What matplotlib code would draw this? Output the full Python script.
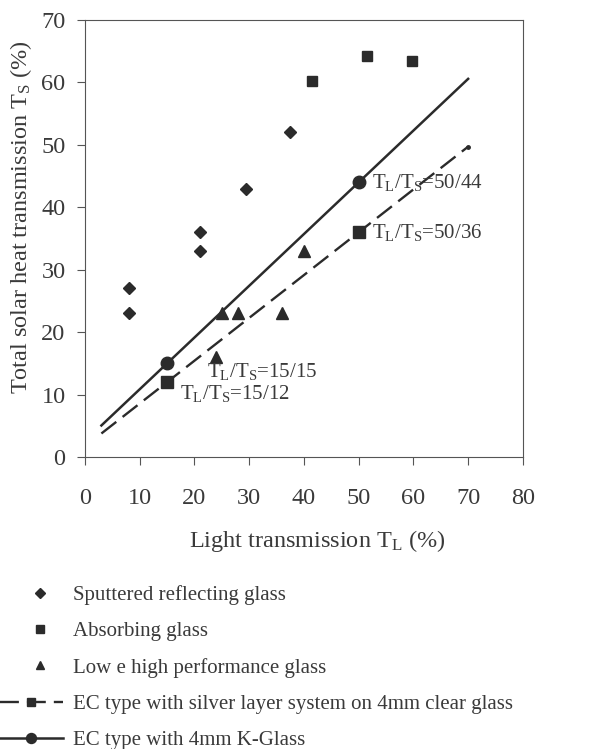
import matplotlib
matplotlib.use("Agg")
import matplotlib.pyplot as plt
from matplotlib.legend_handler import HandlerLine2D
import numpy as np

plt.rcParams['font.family'] = ['Liberation Serif', 'DejaVu Serif']
plt.rcParams['mathtext.fontset'] = 'custom'
plt.rcParams['mathtext.rm'] = 'Liberation Serif'
plt.rcParams['mathtext.it'] = 'Liberation Serif:italic'

INK = '#2b2b2b'
TXT = '#3a3a3a'

# Commercial glazing products: light transmission TL vs total solar transmission TS (%)
sputtered_tl = [8, 8, 21, 21, 29.5, 37.5]
sputtered_ts = [27, 23, 36, 33, 43, 52]

absorbing_tl = [41.5, 51.5, 59.8]
absorbing_ts = [60.2, 64.2, 63.4]

lowe_tl = [24, 25, 28, 36, 40]
lowe_ts = [16, 23, 23, 23, 33]

# Electrochromic devices: operating points (bleached/coloured) and line extent
ec_silver_tl = [15, 50]
ec_silver_ts = [12, 36]
ec_kglass_tl = [15, 50]
ec_kglass_ts = [15, 44]
ec_line_tl = [3, 70]

x_ticks = [0, 10, 20, 30, 40, 50, 60, 70, 80]
y_ticks = [0, 10, 20, 30, 40, 50, 60, 70]


def extend(xp, yp, xr):
    slope = (yp[1] - yp[0]) / (xp[1] - xp[0])
    xs = [xr[0], xp[0], xp[1], xr[1]]
    ys = [yp[0] + slope * (x - xp[0]) for x in xs]
    return xs, ys


class MarkerRight(HandlerLine2D):
    """Legend handler that sets a lone marker a bit right of centre."""

    def get_xdata(self, legend, xdescent, ydescent, width, height, fontsize):
        xdata = np.array([-xdescent + 0.28 * width, -xdescent + width])
        return xdata, np.array([-xdescent + 0.64 * width])


fig = plt.figure(figsize=(6.01, 7.49), dpi=100)
ax = fig.add_axes([0.1414, 0.3898, 0.7286, 0.5835])

h1, = ax.plot(sputtered_tl, sputtered_ts, 'D', color=INK, ms=6, ls='none',
              label='Sputtered reflecting glass')
h2, = ax.plot(absorbing_tl, absorbing_ts, 's', color=INK, ms=7, ls='none',
              label='Absorbing glass')
h3, = ax.plot(lowe_tl, lowe_ts, '^', color=INK, ms=8, ls='none',
              label='Low e high performance glass')

xs, ys = extend(ec_silver_tl, ec_silver_ts, ec_line_tl)
h4, = ax.plot(xs, ys, color=INK, lw=1.7, ls=(0, (8, 3.4)), marker='s', ms=8,
              markevery=[1, 2],
              label='EC type with silver layer system on 4mm clear glass')
ax.plot([xs[-1]], [ys[-1]], 'o', color=INK, ms=2.5)

xs, ys = extend(ec_kglass_tl, ec_kglass_ts, ec_line_tl)
h5, = ax.plot(xs, ys, color=INK, lw=1.8, marker='o', ms=9, markevery=[1, 2],
              label='EC type with 4mm K-Glass')

lab = r'T$_\mathrm{L}$/T$_\mathrm{S}$=%d/%d'
fs_ann = 15
ax.text(52.5, 44, lab % (ec_kglass_tl[1], ec_kglass_ts[1]), fontsize=fs_ann,
        color=TXT, va='center', ha='left')
ax.text(52.5, 36, lab % (ec_silver_tl[1], ec_silver_ts[1]), fontsize=fs_ann,
        color=TXT, va='center', ha='left')
ax.text(22.3, 13.7, lab % (ec_kglass_tl[0], ec_kglass_ts[0]), fontsize=fs_ann,
        color=TXT, va='center', ha='left')
ax.text(17.3, 10.2, lab % (ec_silver_tl[0], ec_silver_ts[0]), fontsize=fs_ann,
        color=TXT, va='center', ha='left')

ax.set_xlim(0, 80)
ax.set_ylim(0, 70)
ax.set_xticks(x_ticks)
ax.set_yticks(y_ticks)
ax.tick_params(axis='both', direction='out', length=6, width=0.8,
               colors='#555555', labelcolor=TXT, labelsize=17.5)
ax.tick_params(axis='x', pad=16)
ax.tick_params(axis='y', pad=8)
for s in ax.spines.values():
    s.set_color('#555555')
    s.set_linewidth(0.8)

ax.set_xlabel(r'Light transmission T$_\mathrm{L}$ (%)', fontsize=17.5,
              color=TXT)
ax.set_ylabel(r'Total solar heat transmission T$_\mathrm{S}$ (%)',
              fontsize=17.5, color=TXT)
ax.xaxis.set_label_coords(0.53, -0.162)
ax.yaxis.set_label_coords(-0.116, 0.55)

fig.legend(handles=[h1, h2, h3, h4, h5], loc='upper left',
           bbox_to_anchor=(0.0, 0.219), frameon=False, fontsize=15,
           labelcolor=TXT, handlelength=3.0, handletextpad=0.5,
           labelspacing=0.8, borderpad=0.0, borderaxespad=0.0,
           markerscale=0.8,
           handler_map={h1: MarkerRight(), h2: MarkerRight(),
                        h3: MarkerRight()})

fig.savefig('out.png', dpi=100)
